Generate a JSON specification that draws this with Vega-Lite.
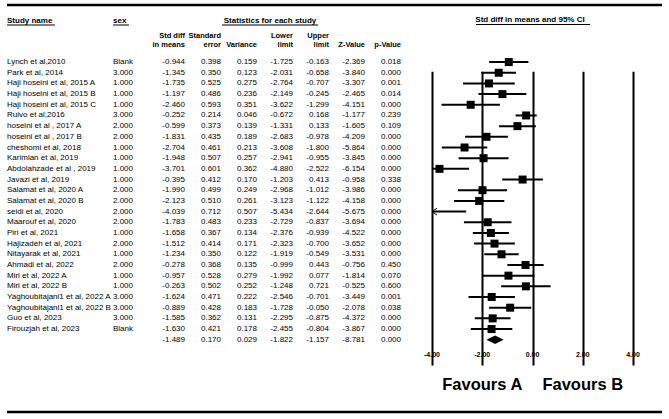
{
  "$schema": "https://vega.github.io/schema/vega-lite/v6.json",
  "width": 669,
  "height": 419,
  "autosize": {"type": "none"},
  "padding": 0,
  "background": "white",
  "config": {
    "view": {"stroke": null},
    "font": "Liberation Sans",
    "locale": {"number": {"decimal": ".", "thousands": ",", "grouping": [3], "currency": ["$", ""], "minus": "-"}}
  },
  "datasets": {
    "studies": [
      {"name": "Lynch et al,2010", "sex": "Blank", "kind": "study", "sd": -0.944, "se": 0.398, "variance": 0.159, "lo": -1.725, "hi": -0.163, "z": -2.369, "p": 0.018},
      {"name": "Park et al, 2014", "sex": "3.000", "kind": "study", "sd": -1.345, "se": 0.350, "variance": 0.123, "lo": -2.031, "hi": -0.658, "z": -3.840, "p": 0.000},
      {"name": "Haji hoseini et al, 2015 A", "sex": "1.000", "kind": "study", "sd": -1.735, "se": 0.525, "variance": 0.275, "lo": -2.764, "hi": -0.707, "z": -3.307, "p": 0.001},
      {"name": "Haji hoseini et al, 2015 B", "sex": "1.000", "kind": "study", "sd": -1.197, "se": 0.486, "variance": 0.236, "lo": -2.149, "hi": -0.245, "z": -2.465, "p": 0.014},
      {"name": "Haji hoseini et al, 2015 C", "sex": "1.000", "kind": "study", "sd": -2.460, "se": 0.593, "variance": 0.351, "lo": -3.622, "hi": -1.299, "z": -4.151, "p": 0.000},
      {"name": "Ruivo et al,2016", "sex": "3.000", "kind": "study", "sd": -0.252, "se": 0.214, "variance": 0.046, "lo": -0.672, "hi": 0.168, "z": -1.177, "p": 0.239},
      {"name": "hoseini et al , 2017 A", "sex": "2.000", "kind": "study", "sd": -0.599, "se": 0.373, "variance": 0.139, "lo": -1.331, "hi": 0.133, "z": -1.605, "p": 0.109},
      {"name": "hoseini et al , 2017 B", "sex": "2.000", "kind": "study", "sd": -1.831, "se": 0.435, "variance": 0.189, "lo": -2.683, "hi": -0.978, "z": -4.209, "p": 0.000},
      {"name": "cheshomi et al, 2018", "sex": "1.000", "kind": "study", "sd": -2.704, "se": 0.461, "variance": 0.213, "lo": -3.608, "hi": -1.800, "z": -5.864, "p": 0.000},
      {"name": "Karimian et al, 2019", "sex": "1.000", "kind": "study", "sd": -1.948, "se": 0.507, "variance": 0.257, "lo": -2.941, "hi": -0.955, "z": -3.845, "p": 0.000},
      {"name": "Abdolahzade et al , 2019", "sex": "1.000", "kind": "study", "sd": -3.701, "se": 0.601, "variance": 0.362, "lo": -4.880, "hi": -2.522, "z": -6.154, "p": 0.000},
      {"name": "Javazi et al, 2019", "sex": "1.000", "kind": "study", "sd": -0.395, "se": 0.412, "variance": 0.170, "lo": -1.203, "hi": 0.413, "z": -0.958, "p": 0.338},
      {"name": "Salamat et al, 2020 A", "sex": "2.000", "kind": "study", "sd": -1.990, "se": 0.499, "variance": 0.249, "lo": -2.968, "hi": -1.012, "z": -3.986, "p": 0.000},
      {"name": "Salamat et al, 2020 B", "sex": "2.000", "kind": "study", "sd": -2.123, "se": 0.510, "variance": 0.261, "lo": -3.123, "hi": -1.122, "z": -4.158, "p": 0.000},
      {"name": "seidi et al, 2020", "sex": "2.000", "kind": "study", "sd": -4.039, "se": 0.712, "variance": 0.507, "lo": -5.434, "hi": -2.644, "z": -5.675, "p": 0.000},
      {"name": "Maarouf et al, 2020", "sex": "2.000", "kind": "study", "sd": -1.783, "se": 0.483, "variance": 0.233, "lo": -2.729, "hi": -0.837, "z": -3.694, "p": 0.000},
      {"name": "Piri et al, 2021", "sex": "1.000", "kind": "study", "sd": -1.658, "se": 0.367, "variance": 0.134, "lo": -2.376, "hi": -0.939, "z": -4.522, "p": 0.000},
      {"name": "Hajizadeh et al, 2021", "sex": "2.000", "kind": "study", "sd": -1.512, "se": 0.414, "variance": 0.171, "lo": -2.323, "hi": -0.700, "z": -3.652, "p": 0.000},
      {"name": "Nitayarak et al, 2021", "sex": "1.000", "kind": "study", "sd": -1.234, "se": 0.350, "variance": 0.122, "lo": -1.919, "hi": -0.549, "z": -3.531, "p": 0.000},
      {"name": "Ahmadi et al, 2022", "sex": "2.000", "kind": "study", "sd": -0.278, "se": 0.368, "variance": 0.135, "lo": -0.999, "hi": 0.443, "z": -0.756, "p": 0.450},
      {"name": "Miri et al, 2022 A", "sex": "1.000", "kind": "study", "sd": -0.957, "se": 0.528, "variance": 0.279, "lo": -1.992, "hi": 0.077, "z": -1.814, "p": 0.070},
      {"name": "Miri et al, 2022 B", "sex": "1.000", "kind": "study", "sd": -0.263, "se": 0.502, "variance": 0.252, "lo": -1.248, "hi": 0.721, "z": -0.525, "p": 0.600},
      {"name": "Yaghoubitajani1 et al, 2022 A", "sex": "3.000", "kind": "study", "sd": -1.624, "se": 0.471, "variance": 0.222, "lo": -2.546, "hi": -0.701, "z": -3.449, "p": 0.001},
      {"name": "Yaghoubitajani1 et al, 2022 B", "sex": "3.000", "kind": "study", "sd": -0.889, "se": 0.428, "variance": 0.183, "lo": -1.728, "hi": -0.050, "z": -2.078, "p": 0.038},
      {"name": "Guo et al, 2023", "sex": "3.000", "kind": "study", "sd": -1.585, "se": 0.362, "variance": 0.131, "lo": -2.295, "hi": -0.875, "z": -4.372, "p": 0.000},
      {"name": "Firouzjah et al, 2023", "sex": "Blank", "kind": "study", "sd": -1.630, "se": 0.421, "variance": 0.178, "lo": -2.455, "hi": -0.804, "z": -3.867, "p": 0.000},
      {"name": "", "sex": "", "kind": "summary", "sd": -1.489, "se": 0.170, "variance": 0.029, "lo": -1.822, "hi": -1.157, "z": -8.781, "p": 0.000}
    ],
    "ticks": [{"v": -4}, {"v": -2}, {"v": 0}, {"v": 2}, {"v": 4}],
    "cols": [
      {"key": "sd", "top": "Std diff", "bottom": "in means"},
      {"key": "se", "top": "Standard", "bottom": "error"},
      {"key": "variance", "top": "", "bottom": "Variance"},
      {"key": "lo", "top": "Lower", "bottom": "limit"},
      {"key": "hi", "top": "Upper", "bottom": "limit"},
      {"key": "z", "top": "", "bottom": "Z-Value"},
      {"key": "p", "top": "", "bottom": "p-Value"}
    ]
  },
  "layer": [
    {
      "data": {"values": [{}]},
      "layer": [
        {"mark": {"type": "rule", "strokeWidth": 2.6, "color": "black"}, "encoding": {"x": {"value": 7}, "x2": {"value": 662}, "y": {"value": 5}}},
        {"mark": {"type": "rule", "strokeWidth": 2.4, "color": "black"}, "encoding": {"x": {"value": 7}, "x2": {"value": 662}, "y": {"value": 412}}},
        {"mark": {"type": "rule", "strokeWidth": 1, "color": "black"}, "encoding": {"x": {"value": 7}, "x2": {"value": 55}, "y": {"value": 25}}},
        {"mark": {"type": "rule", "strokeWidth": 1, "color": "black"}, "encoding": {"x": {"value": 113}, "x2": {"value": 129}, "y": {"value": 25}}},
        {"mark": {"type": "rule", "strokeWidth": 1, "color": "black"}, "encoding": {"x": {"value": 222}, "x2": {"value": 318}, "y": {"value": 25}}},
        {"mark": {"type": "rule", "strokeWidth": 1, "color": "black"}, "encoding": {"x": {"value": 476}, "x2": {"value": 590}, "y": {"value": 24.5}}},
        {"mark": {"type": "text", "align": "left", "baseline": "middle", "fontWeight": "bold", "fontSize": 8}, "encoding": {"x": {"value": 7}, "y": {"value": 20.5}, "text": {"value": "Study name"}}},
        {"mark": {"type": "text", "align": "left", "baseline": "middle", "fontWeight": "bold", "fontSize": 8}, "encoding": {"x": {"value": 113}, "y": {"value": 20.5}, "text": {"value": "sex"}}},
        {"mark": {"type": "text", "align": "center", "baseline": "middle", "fontWeight": "bold", "fontSize": 8}, "encoding": {"x": {"value": 270}, "y": {"value": 20.5}, "text": {"value": "Statistics for each study"}}},
        {"mark": {"type": "text", "align": "center", "baseline": "middle", "fontWeight": "bold", "fontSize": 8}, "encoding": {"x": {"value": 530}, "y": {"value": 20}, "text": {"value": "Std diff in means and 95% CI"}}}
      ]
    },
    {
      "layer": [
        {
          "data": {"name": "studies"},
          "mark": {"type": "text", "align": "left", "baseline": "middle", "fontSize": 8},
          "encoding": {
            "x": {"value": 7},
            "y": {"field": "name", "type": "nominal", "sort": null, "scale": {"range": [54.06, 347.74], "padding": 0.5}, "axis": null},
            "text": {"field": "name", "type": "nominal"}
          }
        },
        {
          "data": {"name": "studies"},
          "mark": {"type": "text", "align": "left", "baseline": "middle", "fontSize": 8},
          "encoding": {
            "x": {"value": 113},
            "y": {"field": "name", "type": "nominal", "sort": null, "scale": {"range": [54.06, 347.74], "padding": 0.5}, "axis": null},
            "text": {"field": "sex", "type": "nominal"}
          }
        },
        {
          "data": {"name": "studies"},
          "transform": [{"fold": ["sd", "se", "variance", "lo", "hi", "z", "p"], "as": ["key", "value"]}],
          "mark": {"type": "text", "align": "right", "baseline": "middle", "fontSize": 8},
          "encoding": {
            "x": {"field": "key", "type": "nominal", "scale": {"domain": ["sd", "se", "variance", "lo", "hi", "z", "p"], "range": [185, 401], "padding": 0}, "axis": null},
            "y": {"field": "name", "type": "nominal", "sort": null, "scale": {"range": [54.06, 347.74], "padding": 0.5}, "axis": null},
            "text": {"field": "value", "type": "quantitative", "format": ".3f"}
          }
        },
        {
          "data": {"name": "cols"},
          "mark": {"type": "text", "align": "right", "baseline": "middle", "fontWeight": "bold", "fontSize": 7.5, "y": 36},
          "encoding": {
            "x": {"field": "key", "type": "nominal", "scale": {"domain": ["sd", "se", "variance", "lo", "hi", "z", "p"], "range": [185, 401], "padding": 0}, "axis": null},
            "text": {"field": "top", "type": "nominal"}
          }
        },
        {
          "data": {"name": "cols"},
          "mark": {"type": "text", "align": "right", "baseline": "middle", "fontWeight": "bold", "fontSize": 7.5, "y": 44.5},
          "encoding": {
            "x": {"field": "key", "type": "nominal", "scale": {"domain": ["sd", "se", "variance", "lo", "hi", "z", "p"], "range": [185, 401], "padding": 0}, "axis": null},
            "text": {"field": "bottom", "type": "nominal"}
          }
        }
      ]
    },
    {
      "layer": [
        {
          "data": {"name": "ticks"},
          "mark": {"type": "text", "align": "center", "baseline": "middle", "fontWeight": "bold", "fontSize": 7, "y": 355},
          "encoding": {
            "x": {"field": "v", "type": "quantitative", "scale": {"domain": [-4, 4], "range": [432, 633], "clamp": true, "nice": false, "zero": false}, "axis": {"values": [-4, -2, 0, 2, 4], "grid": true, "gridColor": "black", "gridWidth": 2, "gridOpacity": 1, "domain": false, "ticks": false, "labels": false, "title": null}},
            "text": {"field": "v", "type": "quantitative", "format": ".2f"}
          }
        },
        {
          "data": {"name": "studies"},
          "transform": [{"filter": "datum.kind == 'study'"}],
          "mark": {"type": "rule", "strokeWidth": 2, "color": "black"},
          "encoding": {
            "x": {"field": "lo", "type": "quantitative", "scale": {"domain": [-4, 4], "range": [432, 633], "clamp": true, "nice": false, "zero": false}, "axis": {"values": [-4, -2, 0, 2, 4], "grid": true, "gridColor": "black", "gridWidth": 2, "gridOpacity": 1, "domain": false, "ticks": false, "labels": false, "title": null}},
            "x2": {"field": "hi"},
            "y": {"field": "name", "type": "nominal", "sort": null, "scale": {"range": [54.06, 347.74], "padding": 0.5}, "axis": null}
          }
        },
        {
          "data": {"name": "studies"},
          "transform": [{"filter": "datum.kind == 'study' && datum.sd >= -4"}],
          "mark": {"type": "square", "size": 64, "color": "black", "opacity": 1},
          "encoding": {
            "x": {"field": "sd", "type": "quantitative", "scale": {"domain": [-4, 4], "range": [432, 633], "clamp": true, "nice": false, "zero": false}, "axis": {"values": [-4, -2, 0, 2, 4], "grid": true, "gridColor": "black", "gridWidth": 2, "gridOpacity": 1, "domain": false, "ticks": false, "labels": false, "title": null}},
            "y": {"field": "name", "type": "nominal", "sort": null, "scale": {"range": [54.06, 347.74], "padding": 0.5}, "axis": null}
          }
        },
        {
          "data": {"name": "studies"},
          "transform": [{"filter": "datum.sd < -4"}],
          "mark": {"type": "point", "shape": "M0,0L1,-0.7M0,0L1,0.7", "filled": false, "size": 100, "strokeWidth": 1, "color": "black", "opacity": 1},
          "encoding": {
            "x": {"field": "lo", "type": "quantitative", "scale": {"domain": [-4, 4], "range": [432, 633], "clamp": true, "nice": false, "zero": false}, "axis": {"values": [-4, -2, 0, 2, 4], "grid": true, "gridColor": "black", "gridWidth": 2, "gridOpacity": 1, "domain": false, "ticks": false, "labels": false, "title": null}},
            "y": {"field": "name", "type": "nominal", "sort": null, "scale": {"range": [54.06, 347.74], "padding": 0.5}, "axis": null}
          }
        },
        {
          "data": {"name": "studies"},
          "transform": [{"filter": "datum.kind == 'summary'"}],
          "mark": {"type": "point", "shape": "M-1,0L0,-0.5L1,0L0,0.5Z", "filled": true, "size": 289, "color": "black", "opacity": 1},
          "encoding": {
            "x": {"field": "sd", "type": "quantitative", "scale": {"domain": [-4, 4], "range": [432, 633], "clamp": true, "nice": false, "zero": false}, "axis": {"values": [-4, -2, 0, 2, 4], "grid": true, "gridColor": "black", "gridWidth": 2, "gridOpacity": 1, "domain": false, "ticks": false, "labels": false, "title": null}},
            "y": {"field": "name", "type": "nominal", "sort": null, "scale": {"range": [54.06, 347.74], "padding": 0.5}, "axis": null}
          }
        },
        {
          "data": {"values": [{}]},
          "mark": {"type": "text", "align": "center", "baseline": "middle", "fontWeight": "bold", "fontSize": 16.5, "y": 385},
          "encoding": {
            "x": {"datum": -2, "type": "quantitative", "scale": {"domain": [-4, 4], "range": [432, 633], "clamp": true, "nice": false, "zero": false}, "axis": {"values": [-4, -2, 0, 2, 4], "grid": true, "gridColor": "black", "gridWidth": 2, "gridOpacity": 1, "domain": false, "ticks": false, "labels": false, "title": null}},
            "text": {"value": "Favours A"}
          }
        },
        {
          "data": {"values": [{}]},
          "mark": {"type": "text", "align": "center", "baseline": "middle", "fontWeight": "bold", "fontSize": 16.5, "y": 385},
          "encoding": {
            "x": {"datum": 2, "type": "quantitative", "scale": {"domain": [-4, 4], "range": [432, 633], "clamp": true, "nice": false, "zero": false}, "axis": {"values": [-4, -2, 0, 2, 4], "grid": true, "gridColor": "black", "gridWidth": 2, "gridOpacity": 1, "domain": false, "ticks": false, "labels": false, "title": null}},
            "text": {"value": "Favours B"}
          }
        }
      ]
    }
  ],
  "resolve": {"scale": {"x": "independent"}}
}
